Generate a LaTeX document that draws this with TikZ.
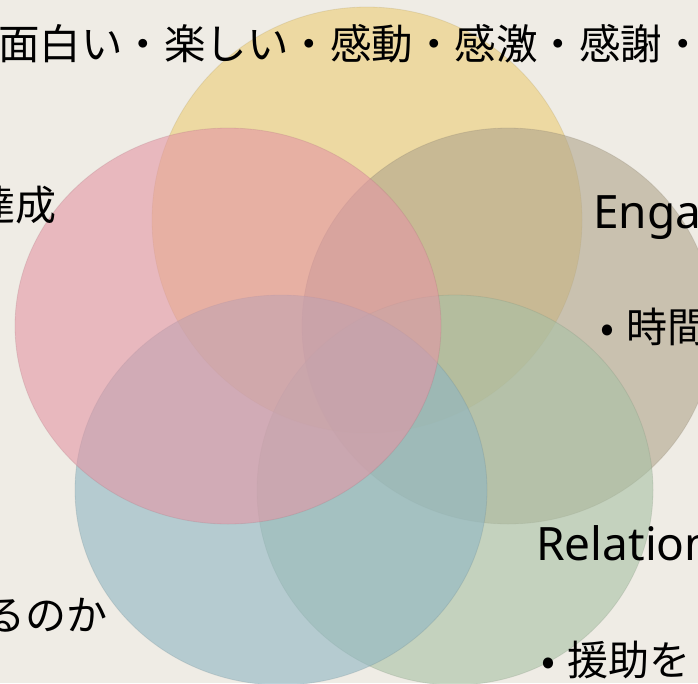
\documentclass[tikz,border=0pt]{standalone}
\usepackage{fontspec}
\setmainfont{Noto Sans CJK JP}
\newfontfamily\latinfont{Noto Sans}
\definecolor{bgc}{RGB}{239,236,229}
\definecolor{cyel}{RGB}{236,205,118}
\definecolor{cpink}{RGB}{228,150,165}
\definecolor{ctan}{RGB}{176,165,140}
\definecolor{cgreen}{RGB}{168,193,165}
\definecolor{cblue}{RGB}{143,182,195}
\tikzset{
  venn/.style={fill opacity=0.6, draw opacity=0.2, line width=0.8pt},
  cjktext/.style={inner sep=0pt, font=\fontsize{41}{45}\selectfont, text=black},
  toptext/.style={inner sep=0pt, font=\fontsize{41.5}{45}\selectfont, text=black},
  lattext/.style={inner sep=0pt, font=\latinfont\fontsize{46}{50}\selectfont, text=black}
}
\begin{document}
\begin{tikzpicture}[x=1pt,y=-1pt]
\useasboundingbox (0,0) rectangle (698,683);
\clip (0,0) rectangle (698,683);
\fill[bgc] (0,0) rectangle (698,683);
% circles
\path[venn, fill=cyel, draw=cyel!70!black] (367,220) ellipse [x radius=215, y radius=213];
\path[venn, fill=ctan, draw=ctan!70!black] (508,326) ellipse [x radius=206, y radius=198];
\path[venn, fill=cgreen, draw=cgreen!70!black] (455,490) ellipse [x radius=198, y radius=195];
\path[venn, fill=cblue, draw=cblue!70!black] (281,490) ellipse [x radius=206, y radius=195];
\path[venn, fill=cpink, draw=cpink!70!black] (228,326) ellipse [x radius=213, y radius=198];
% texts
\node[toptext, anchor=west] (top) at (-2,44) {面白い・楽しい・感動・感激・感謝・};
\node[cjktext, anchor=east] (tassei) at (57,205) {達成};
\node[lattext, anchor=base west] (eng) at (593,228) {Engagement};
\node[cjktext, anchor=west] (jikan) at (600,327) {•\hspace{0.3em}時間};
\node[lattext, anchor=base west] (rel) at (536,560) {Relationship};
\node[cjktext, anchor=east] (noka) at (108,615) {るのか};
\node[cjktext, anchor=west] (enjo) at (541,660) {•\hspace{0.3em}援助を};
\end{tikzpicture}
\end{document}
